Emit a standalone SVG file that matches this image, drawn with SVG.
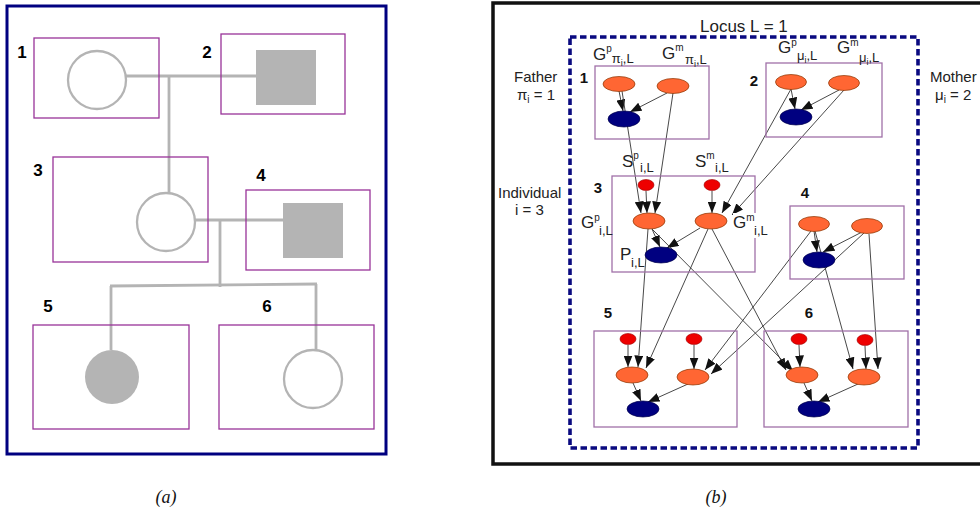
<svg xmlns="http://www.w3.org/2000/svg" width="980" height="510" viewBox="0 0 980 510">
  <defs>
    <marker id="arrow" markerUnits="userSpaceOnUse" markerWidth="12" markerHeight="9" refX="11.5" refY="4.5" orient="auto">
      <path d="M0,0 L11.5,4.5 L0,9 z" fill="#111"/>
    </marker>
    <style>
      .frame-a { fill: none; stroke: #000080; stroke-width: 3; }
      .frame-b { fill: none; stroke: #111; stroke-width: 3.5; }
      .box-a { fill: none; stroke: #993399; stroke-width: 1.3; }
      .box-b { fill: none; stroke: #a070a8; stroke-width: 1.3; }
      .ped-line { fill: none; stroke: #b4b4b4; stroke-width: 2.8; }
      .female { fill: #fff; stroke: #b4b4b4; stroke-width: 2.3; }
      .affected { fill: #b4b4b4; stroke: none; }
      .num-a { font-family: "Liberation Sans", Arial, sans-serif; font-weight: bold; font-size: 17px; fill: #000; text-anchor: middle; }
      .num-b { font-family: "Liberation Sans", Arial, sans-serif; font-weight: bold; font-size: 15px; fill: #111; text-anchor: middle; }
      .lbl { font-family: "Liberation Sans", Arial, sans-serif; font-size: 15px; fill: #222; }
      .var { font-family: "Liberation Sans", Arial, sans-serif; font-size: 17px; fill: #222; }
      .sup { font-size: 10px; }
      .sub { font-size: 13px; }
      .sub2 { font-size: 9px; }
      .edge-a { fill: none; stroke: #333; stroke-width: 0.9; marker-end: url(#arrow); }
      .g { fill: #ff6633; stroke: #8a3300; stroke-width: 0.7; }
      .s { fill: #ee0000; stroke: #990000; stroke-width: 0.6; }
      .p { fill: #000080; stroke: #00004a; stroke-width: 0.7; }
      .caption { font-family: "Liberation Serif", "Times New Roman", serif; font-style: italic; font-size: 18px; fill: #111; text-anchor: middle; }
    </style>
  </defs>

  <rect width="980" height="510" fill="#fff"/>

  <!-- ===== (a) pedigree ===== -->
  <rect class="frame-a" x="7" y="6" width="379" height="448"/>

  <g id="pedigree-links">
    <path class="ped-line" d="M126,76 H256"/>
    <path class="ped-line" d="M169,76 V193"/>
    <path class="ped-line" d="M195,220 H283"/>
    <path class="ped-line" d="M220,220 V287"/>
    <path class="ped-line" d="M110,286 L317,284"/>
    <path class="ped-line" d="M111,286 V350"/>
    <path class="ped-line" d="M316,284 V350"/>
  </g>

  <g id="ped-1">
    <rect class="box-a" x="34" y="38" width="125" height="80"/>
    <text class="num-a" x="22" y="58">1</text>
    <circle class="female" cx="97" cy="80" r="29"/>
  </g>
  <g id="ped-2">
    <rect class="box-a" x="221" y="34" width="124" height="80"/>
    <text class="num-a" x="207" y="58">2</text>
    <rect class="affected" x="256" y="50" width="60" height="55"/>
  </g>
  <g id="ped-3">
    <rect class="box-a" x="53" y="157" width="155" height="105"/>
    <text class="num-a" x="38" y="176">3</text>
    <circle class="female" cx="166" cy="222" r="29"/>
  </g>
  <g id="ped-4">
    <rect class="box-a" x="246" y="190" width="124" height="80"/>
    <text class="num-a" x="261" y="181">4</text>
    <rect class="affected" x="283" y="203" width="60" height="55"/>
  </g>
  <g id="ped-5">
    <rect class="box-a" x="33" y="325" width="156" height="104"/>
    <text class="num-a" x="48" y="312">5</text>
    <circle class="affected" cx="112" cy="377" r="27"/>
  </g>
  <g id="ped-6">
    <rect class="box-a" x="219" y="325" width="155" height="104"/>
    <text class="num-a" x="267" y="312">6</text>
    <circle class="female" cx="313" cy="379" r="29"/>
  </g>

  <text class="caption" x="166" y="503">(a)</text>

  <!-- ===== (b) Bayesian network for one locus ===== -->
  <rect class="frame-b" x="493" y="3" width="500" height="461"/>
  <rect x="570" y="37" width="348" height="411" fill="none" stroke="#0a0a80" stroke-width="3.6" stroke-dasharray="6.5 3.5"/>
  <text class="var" x="700" y="32">Locus L = 1</text>

  <g id="bn-links">
    <!-- within individual 1 -->
    <path class="edge-a" d="M619,91 L623,111"/>
    <path class="edge-a" d="M667,93 L630,112"/>
    <!-- within individual 2 -->
    <path class="edge-a" d="M791,89 L795,109"/>
    <path class="edge-a" d="M839,90 L801,110"/>
    <!-- parents 1, 2 to individual 3 -->
    <path class="edge-a" d="M622,91 L641,213"/>
    <path class="edge-a" d="M673,93 L655,213"/>
    <path class="edge-a" d="M646,191 L647,213"/>
    <path class="edge-a" d="M791,89 L722,213"/>
    <path class="edge-a" d="M844,90 L732,215"/>
    <path class="edge-a" d="M712,191 L712,213"/>
    <!-- within individual 3 -->
    <path class="edge-a" d="M652,229 L660,247"/>
    <path class="edge-a" d="M700,228 L667,248"/>
    <!-- within individual 4 -->
    <path class="edge-a" d="M814,231 L817,252"/>
    <path class="edge-a" d="M862,232 L823,252"/>
    <!-- parents 3, 4 to individual 5 -->
    <path class="edge-a" d="M628,345 L628,367"/>
    <path class="edge-a" d="M648,229 L638,367"/>
    <path class="edge-a" d="M708,229 L646,368"/>
    <path class="edge-a" d="M694,345 L694,369"/>
    <path class="edge-a" d="M811,231 L705,370"/>
    <path class="edge-a" d="M864,233 L711,374"/>
    <!-- within individual 5 -->
    <path class="edge-a" d="M633,383 L641,401"/>
    <path class="edge-a" d="M688,384 L648,402"/>
    <!-- parents 3, 4 to individual 6 -->
    <path class="edge-a" d="M799,345 L800,367"/>
    <path class="edge-a" d="M712,229 L786,370"/>
    <path class="edge-a" d="M652,229 L793,371"/>
    <path class="edge-a" d="M865,346 L866,369"/>
    <path class="edge-a" d="M815,231 L853,369"/>
    <path class="edge-a" d="M869,234 L878,369"/>
    <!-- within individual 6 -->
    <path class="edge-a" d="M804,383 L812,401"/>
    <path class="edge-a" d="M858,384 L818,402"/>
  </g>

  <g id="ind-1">
    <rect class="box-b" x="595" y="66" width="114" height="73"/>
    <text class="num-b" x="584" y="83">1</text>
    <ellipse id="g1p" class="g" cx="619" cy="84" rx="16" ry="7.5"/>
    <ellipse id="g1m" class="g" cx="673" cy="86" rx="16" ry="7.5"/>
    <ellipse id="p1" class="p" cx="624" cy="119" rx="16" ry="8"/>
  </g>
  <g id="ind-2">
    <rect class="box-b" x="766" y="63" width="116" height="74"/>
    <text class="num-b" x="754" y="86">2</text>
    <ellipse id="g2p" class="g" cx="791" cy="82" rx="15.5" ry="7.5"/>
    <ellipse id="g2m" class="g" cx="844" cy="83" rx="15.5" ry="7.5"/>
    <ellipse id="p2" class="p" cx="796" cy="117" rx="16" ry="8"/>
  </g>
  <g id="ind-3">
    <rect class="box-b" x="612" y="176" width="143" height="96"/>
    <text class="num-b" x="598" y="193">3</text>
    <ellipse id="s3p" class="s" cx="646" cy="185" rx="8" ry="5.5"/>
    <ellipse id="s3m" class="s" cx="712" cy="185" rx="8" ry="5.5"/>
    <ellipse id="g3p" class="g" cx="649" cy="221" rx="16" ry="8"/>
    <ellipse id="g3m" class="g" cx="711" cy="221" rx="16" ry="8"/>
    <ellipse id="p3" class="p" cx="661" cy="255" rx="16" ry="8"/>
  </g>
  <g id="ind-4">
    <rect class="box-b" x="790" y="206" width="114" height="73"/>
    <text class="num-b" x="805" y="198">4</text>
    <ellipse id="g4p" class="g" cx="814" cy="224" rx="15.5" ry="7.5"/>
    <ellipse id="g4m" class="g" cx="867" cy="226" rx="15.5" ry="7.5"/>
    <ellipse id="p4" class="p" cx="819" cy="260" rx="16" ry="8"/>
  </g>
  <g id="ind-5">
    <rect class="box-b" x="594" y="331" width="143" height="96"/>
    <text class="num-b" x="608" y="318">5</text>
    <ellipse id="s5p" class="s" cx="628" cy="339" rx="8" ry="5.5"/>
    <ellipse id="s5m" class="s" cx="694" cy="339" rx="8" ry="5.5"/>
    <ellipse id="g5p" class="g" cx="632" cy="375" rx="16" ry="8"/>
    <ellipse id="g5m" class="g" cx="693" cy="377" rx="16" ry="8"/>
    <ellipse id="p5" class="p" cx="643" cy="409" rx="16" ry="8"/>
  </g>
  <g id="ind-6">
    <rect class="box-b" x="764" y="331" width="144" height="96"/>
    <text class="num-b" x="809" y="318">6</text>
    <ellipse id="s6p" class="s" cx="799" cy="339" rx="8" ry="5.5"/>
    <ellipse id="s6m" class="s" cx="865" cy="340" rx="8" ry="5.5"/>
    <ellipse id="g6p" class="g" cx="802" cy="375" rx="16" ry="8"/>
    <ellipse id="g6m" class="g" cx="864" cy="377" rx="16" ry="8"/>
    <ellipse id="p6" class="p" cx="814" cy="409" rx="16" ry="8"/>
  </g>

  <!-- variable and role labels -->
  <g id="bn-labels">
    <text class="lbl" x="514" y="82">Father</text>
    <text class="lbl" x="517" y="100">π<tspan font-size="10" y="103">i</tspan><tspan y="100"> = 1</tspan></text>
    <text class="lbl" x="930" y="82">Mother</text>
    <text class="lbl" x="935" y="100">μ<tspan font-size="10" y="103">i</tspan><tspan y="100"> = 2</tspan></text>
    <text class="lbl" x="498" y="198">Individual</text>
    <text class="lbl" x="515" y="215">i = 3</text>

    <text class="var" x="593" y="60">G<tspan class="sup" y="52">p</tspan><tspan class="sub" y="63">π</tspan><tspan class="sub2" y="66">i</tspan><tspan class="sub" y="63">,L</tspan></text>
    <text class="var" x="662" y="59">G<tspan class="sup" y="51">m</tspan><tspan class="sub" x="685" y="64">π</tspan><tspan class="sub2" y="67">i</tspan><tspan class="sub" y="64">,L</tspan></text>
    <text class="var" x="778" y="53">G<tspan class="sup" y="46">p</tspan><tspan class="sub" x="797" y="60">μ</tspan><tspan class="sub2" y="63">i</tspan><tspan class="sub" y="60">,L</tspan></text>
    <text class="var" x="837" y="53">G<tspan class="sup" y="46">m</tspan><tspan class="sub" x="859" y="62">μ</tspan><tspan class="sub2" y="65">i</tspan><tspan class="sub" y="62">,L</tspan></text>

    <text class="var" x="622" y="167">S<tspan class="sup" y="159">p</tspan><tspan class="sub" x="640" y="172">i,L</tspan></text>
    <text class="var" x="695" y="167">S<tspan class="sup" y="159">m</tspan><tspan class="sub" x="715" y="172">i,L</tspan></text>

    <text class="var" x="581" y="228">G<tspan class="sup" y="221">p</tspan><tspan class="sub" x="599" y="235">i,L</tspan></text>
    <rect x="733" y="213" width="36" height="25" fill="#fff"/>
    <text class="var" x="733" y="228">G<tspan class="sup" y="221">m</tspan><tspan class="sub" x="754" y="235">i,L</tspan></text>
    <text class="var" x="620" y="260">P<tspan class="sub" x="631" y="267">i,L</tspan></text>
  </g>

  <text class="caption" x="716" y="503">(b)</text>
</svg>
